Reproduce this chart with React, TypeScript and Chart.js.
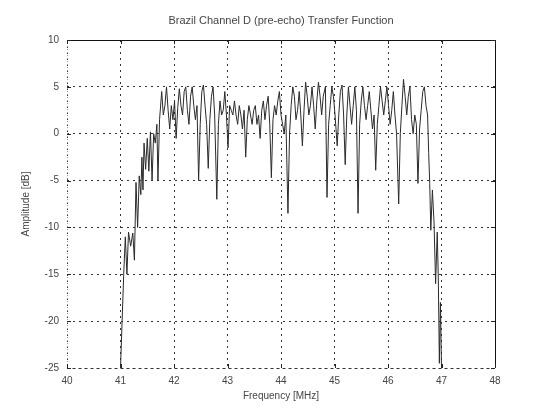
import React, { useEffect, useRef } from "react";
import { Chart, registerables } from "chart.js";

Chart.register(...registerables);

// Frequency (MHz) sample points across the 6 MHz channel
const freqMHz: number[] = [
  41.0, 41.03, 41.06, 41.09, 41.12, 41.15, 41.19, 41.23, 41.26, 41.29, 41.32, 41.35, 41.38, 41.4, 41.42, 41.44,
  41.47, 41.5, 41.53, 41.56, 41.59, 41.62, 41.65, 41.68, 41.7, 41.73, 41.77, 41.8, 41.83, 41.86, 41.89, 41.92,
  41.95, 41.98, 42.01, 42.04, 42.07, 42.1, 42.13, 42.16, 42.19, 42.22, 42.25, 42.28, 42.31, 42.34, 42.37, 42.4,
  42.43, 42.46, 42.49, 42.52, 42.55, 42.58, 42.61, 42.64, 42.67, 42.7, 42.73, 42.76, 42.8, 42.83, 42.86, 42.89,
  42.92, 42.95, 42.98, 43.01, 43.04, 43.07, 43.1, 43.13, 43.16, 43.19, 43.22, 43.25, 43.28, 43.31, 43.34, 43.37,
  43.4, 43.43, 43.46, 43.49, 43.52, 43.55, 43.58, 43.61, 43.64, 43.67, 43.7, 43.73, 43.76, 43.79, 43.82, 43.85,
  43.88, 43.91, 43.94, 43.97, 44.0, 44.03, 44.06, 44.09, 44.13, 44.16, 44.19, 44.22, 44.25, 44.28, 44.31, 44.34,
  44.37, 44.4, 44.43, 44.46, 44.49, 44.52, 44.55, 44.58, 44.61, 44.64, 44.67, 44.7, 44.73, 44.76, 44.79, 44.83,
  44.86, 44.89, 44.92, 44.95, 44.98, 45.01, 45.05, 45.08, 45.11, 45.14, 45.17, 45.2, 45.23, 45.26, 45.29, 45.32,
  45.35, 45.38, 45.41, 45.44, 45.47, 45.5, 45.53, 45.56, 45.59, 45.62, 45.65, 45.68, 45.71, 45.74, 45.77, 45.8,
  45.83, 45.86, 45.89, 45.92, 45.95, 45.98, 46.01, 46.04, 46.07, 46.1, 46.13, 46.16, 46.2, 46.23, 46.26, 46.29,
  46.32, 46.35, 46.38, 46.41, 46.44, 46.47, 46.5, 46.53, 46.56, 46.59, 46.62, 46.65, 46.68, 46.71, 46.74, 46.76,
  46.78, 46.8, 46.83, 46.86, 46.89, 46.92, 46.94, 46.96, 46.98, 47.0,
];

// Channel amplitude response (dB) at each frequency point
const amplitudeDb: number[] = [
  -25, -20, -15, -11, -15, -10.5, -12, -10.6, -13.5, -5.2, -10, -4.5, -6.5, -2.5, -6, -1,
  -3.8, -0.5, -4, 0.2, -5, 0, -1, 1, -5, 1.5, 4.5, 2, 3, 5, 2.5, 0.5,
  3, 1.5, 3.5, -0.5, 2.8, 4.8, 3, 2, 4.5, 5, 2.5, 1, 4, 5, 3, 1.5,
  3, -5, 1, 4.5, 5.2, 3, 1, -3.7, 1.5, 4, 5, 2, -7, 1, 3.5, 2,
  2.5, 4.5, 2, -1.5, 3, 2.5, 2, 3.5, 2, 1, 3, 2, 0.5, 2.5, -2.5, 1.5,
  3, 2, 1, 2.5, 3, 1, 2, -0.5, 2.5, 3.5, 1.5, 3, 4, 1, -4.7, 1.5,
  3, 2, 3.5, 4.5, 2, 1, 0, 2, -8.5, 0, 3, 5, 4, 1.5, 2.5, 4.5,
  2, -1.3, 2.5, 5.5, 4, 2, 3, 5, 3, 0.5, 3.5, 5.5, 4, 2, 4, 5,
  -6.8, 1, 3, 5, 4, 2, -1.3, 2, 4.5, 5.2, 2, -3.3, 2, 5, 3, 1,
  3, 5, 2.5, -8.5, 1, 3.5, 5, 3, 1.5, 3, 4.5, 2.5, 0.5, 2, -3.9, 1,
  3, 5, 3.5, 2, 3.5, 5, 3, 1, 2.5, 4.5, 2, 0, -7.5, 0, 3, 5.8,
  4, 2, 4, 5, 1.5, 0, 2, 1, -5.3, 0.5, 2.5, 4.5, 5, 3, 2, -2,
  -5.3, -10.3, -6, -9.4, -16, -10.5, -15.3, -24.5, -18, -25,
];

const xTicks: number[] = [40, 41, 42, 43, 44, 45, 46, 47, 48];
const yTicks: number[] = [10, 5, 0, -5, -10, -15, -20, -25];

const titleText = "Brazil Channel D (pre-echo) Transfer Function";
const xTitle = "Frequency [MHz]";
const yTitle = "Amplitude [dB]";

const FONT = "'Liberation Sans', Arial, sans-serif";

export default function App() {
  const ref = useRef<HTMLCanvasElement | null>(null);

  useEffect(() => {
    if (!ref.current) return;

    const frameAndLabels = {
      id: "frameAndLabels",
      afterDraw(chart: any) {
        const { ctx, chartArea } = chart;
        const { left, right, top, bottom } = chartArea;
        ctx.save();
        // axes box
        ctx.strokeStyle = "#111";
        ctx.lineWidth = 1;
        ctx.setLineDash([]);
        ctx.beginPath();
        ctx.moveTo(left, top + 0.5);
        ctx.lineTo(right + 0.5, top + 0.5);
        ctx.lineTo(right + 0.5, bottom);
        ctx.stroke();
        ctx.strokeStyle = "#999";
        ctx.setLineDash([1, 2]);
        ctx.beginPath();
        ctx.moveTo(left + 0.5, top);
        ctx.lineTo(left + 0.5, bottom + 0.5);
        ctx.lineTo(right, bottom + 0.5);
        ctx.stroke();
        ctx.setLineDash([]);

        // inward tick marks
        ctx.strokeStyle = "#222";
        const xs = chart.scales.x;
        const ys = chart.scales.y;
        xTicks.forEach((t) => {
          const px = Math.round(xs.getPixelForValue(t)) + 0.5;
          ctx.beginPath();
          ctx.moveTo(px, bottom);
          ctx.lineTo(px, bottom - 4);
          ctx.moveTo(px, top);
          ctx.lineTo(px, top + 4);
          ctx.stroke();
        });
        yTicks.forEach((t) => {
          const py = Math.round(ys.getPixelForValue(t)) + 0.5;
          ctx.beginPath();
          ctx.moveTo(left, py);
          ctx.lineTo(left + 4, py);
          ctx.moveTo(right, py);
          ctx.lineTo(right - 4, py);
          ctx.stroke();
        });

        // titles
        ctx.fillStyle = "#444";
        ctx.font = `11px ${FONT}`;
        ctx.textAlign = "center";
        ctx.textBaseline = "middle";
        ctx.fillText(titleText, (left + right) / 2, 21);
        ctx.font = `10px ${FONT}`;
        ctx.fillText(xTitle, (left + right) / 2, 396);
        ctx.translate(26, (top + bottom) / 2);
        ctx.rotate(-Math.PI / 2);
        ctx.fillText(yTitle, 0, 0);
        ctx.restore();
      },
    };

    const chart = new Chart(ref.current, {
      type: "line",
      data: {
        datasets: [
          {
            data: freqMHz.map((f, i) => ({ x: f, y: amplitudeDb[i] })),
            borderColor: "#2a2a2a",
            borderWidth: 1,
            pointRadius: 0,
            tension: 0,
            fill: false,
          },
        ],
      },
      options: {
        responsive: false,
        animation: false,
        layout: { padding: { top: 40, right: 45, left: 0, bottom: 0 } },
        plugins: {
          legend: { display: false },
          tooltip: { enabled: false },
          title: { display: false },
        },
        scales: {
          x: {
            type: "linear",
            min: 40,
            max: 48,
            afterFit: (s: any) => {
              s.height = 47;
            },
            afterBuildTicks: (s: any) => {
              s.ticks = xTicks.map((v) => ({ value: v }));
            },
            // dash pattern here applies to the grid lines
            border: { display: false, dash: [2, 4] },
            grid: {
              color: "#333",
              lineWidth: 1,
              drawTicks: false,
            },
            ticks: {
              color: "#444",
              font: { size: 10, family: FONT },
              padding: 7,
              maxRotation: 0,
              callback: (v: any) => String(v),
            },
          },
          y: {
            type: "linear",
            min: -25,
            max: 10,
            afterFit: (s: any) => {
              s.width = 67;
            },
            afterBuildTicks: (s: any) => {
              s.ticks = yTicks.map((v) => ({ value: v }));
            },
            border: { display: false, dash: [2, 4] },
            grid: {
              color: "#333",
              lineWidth: 1,
              drawTicks: false,
            },
            ticks: {
              color: "#444",
              font: { size: 10, family: FONT },
              padding: 8,
              callback: (v: any) => String(v),
            },
          },
        },
      },
      plugins: [frameAndLabels],
    } as any);

    return () => chart.destroy();
  }, []);

  return (
    <div style={{ position: "fixed", left: 0, top: 0, width: 540, height: 415, background: "#fff" }}>
      <canvas ref={ref} width={540} height={415} />
    </div>
  );
}
